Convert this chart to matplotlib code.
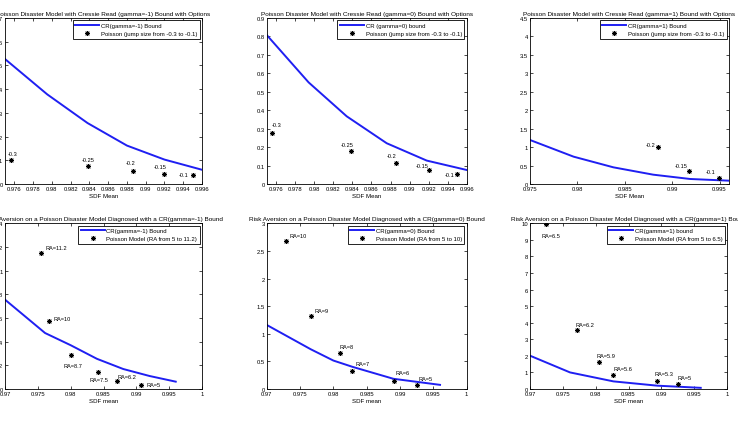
import numpy as np
import matplotlib
matplotlib.use("Agg")
import matplotlib.pyplot as plt
from matplotlib.ticker import MultipleLocator, FuncFormatter

plt.rcParams['font.family'] = ['Liberation Sans Narrow', 'Liberation Sans', 'DejaVu Sans']

# ---- top row: jump size models ----
jump_labels = ["-0.3", "-0.25", "-0.2", "-0.15", "-0.1"]
jump_x = [0.9756, 0.9839, 0.9886, 0.9920, 0.9950]

p1_y = [0.101, 0.075, 0.055, 0.043, 0.038]
p2_y = [0.277, 0.177, 0.114, 0.076, 0.054]
p3_labels = ["-0.2", "-0.15", "-0.1"]
p3_x = [0.9885, 0.9918, 0.9949]
p3_y = [1.01, 0.36, 0.163]

b1_x = [0.975, 0.9795, 0.9838, 0.9880, 0.9920, 0.9960]
b1_y = [0.527, 0.378, 0.257, 0.162, 0.103, 0.060]
b2_x = [0.975, 0.9794, 0.9834, 0.9876, 0.9918, 0.9960]
b2_y = [0.808, 0.551, 0.367, 0.221, 0.127, 0.076]
b3_x = [0.975, 0.9796, 0.9838, 0.9880, 0.9919, 0.9960]
b3_y = [1.193, 0.741, 0.452, 0.253, 0.136, 0.090]

# ---- bottom row: risk aversion ----
ra4_labels = ["RA=11.2", "RA=10", "RA=8.7", "RA=7.5", "RA=6.2", "RA=5"]
ra4_x = [0.97542, 0.97674, 0.98003, 0.98419, 0.98713, 0.99078]
ra4_y = [1.149, 0.572, 0.290, 0.147, 0.070, 0.034]
ra5_labels = ["RA=10", "RA=9", "RA=8", "RA=7", "RA=6", "RA=5"]
ra5_x = [0.97286, 0.97663, 0.98095, 0.98281, 0.98910, 0.99251]
ra5_y = [2.674, 1.316, 0.646, 0.320, 0.151, 0.072]
ra6_labels = ["RA=6.5", "RA=6.2", "RA=5.9", "RA=5.6", "RA=5.3", "RA=5"]
ra6_x = [0.97238, 0.97720, 0.98044, 0.98267, 0.98941, 0.99255]
ra6_y = [9.96, 3.56, 1.61, 0.865, 0.463, 0.30]

c4_x = [0.970, 0.9761, 0.9800, 0.9840, 0.9880, 0.9920, 0.9960]
c4_y = [0.755, 0.473, 0.370, 0.255, 0.169, 0.110, 0.062]
c5_x = [0.970, 0.9766, 0.9800, 0.9829, 0.9890, 0.9925, 0.9960]
c5_y = [1.160, 0.720, 0.515, 0.400, 0.185, 0.130, 0.075]
c6_x = [0.970, 0.9761, 0.9827, 0.9894, 0.9925, 0.9960]
c6_y = [2.010, 1.000, 0.460, 0.200, 0.140, 0.070]

W, H = 738, 435
fig = plt.figure(figsize=(W / 100, H / 100), dpi=100)


def box(l, t, r, b):
    return [l / W, 1 - b / H, (r - l) / W, (b - t) / H]


fmt = FuncFormatter(lambda v, _: f"{round(v, 4):g}")


def panel(rect, title, xlabel, xlim, xstep, ylim, ystep,
          cx, cy, cname, px, py, pname, labels, offsets):
    ax = fig.add_axes(rect)
    ax.plot(cx, cy, color=(0.12, 0.12, 0.95), lw=1.4, label=cname)
    ax.plot(px, py, ls='none', marker=(8, 2, 0), ms=3.6, mew=0.6,
            color='black', label=pname)
    for x, y, s, (dx, dy) in zip(px, py, labels, offsets):
        ax.annotate(s, (x, y), xytext=(dx, -dy), textcoords='offset pixels',
                    ha='center', va='center', fontsize=4.1)
    ax.set_xlim(*xlim)
    ax.set_ylim(*ylim)
    ax.xaxis.set_major_locator(MultipleLocator(xstep))
    ax.yaxis.set_major_locator(MultipleLocator(ystep))
    ax.xaxis.set_major_formatter(fmt)
    ax.yaxis.set_major_formatter(fmt)
    ax.tick_params(direction='in', top=True, right=True, length=2,
                   width=0.5, labelsize=4.2, pad=1.5)
    for sp in ax.spines.values():
        sp.set_linewidth(0.6)
    ax.set_title(title, fontsize=4.6, pad=2.5)
    ax.set_xlabel(xlabel, fontsize=4.4, labelpad=1.5)
    leg = ax.legend(loc='upper right', fontsize=4.3, fancybox=False,
                    edgecolor='black', framealpha=1, borderaxespad=0.4,
                    handlelength=4, handletextpad=0.3, borderpad=0.4,
                    labelspacing=0.5)
    leg.get_frame().set_linewidth(0.6)
    return ax


jump_title = "Poisson Disaster Model with Cressie Read (gamma={}) Bound with Options"
ra_title = "Risk Aversion on a Poisson Disaster Model Diagnosed with a CR(gamma={}) Bound"
jump_name = "Poisson (jump size from -0.3 to -0.1)"

panel(box(5, 19, 202, 185), jump_title.format(-1), "SDF Mean",
      (0.975, 0.996), 0.002, (0, 0.7), 0.1,
      b1_x, b1_y, "CR(gamma=-1) Bound", jump_x, p1_y, jump_name, jump_labels,
      [(2.3, -7), (-0.7, -7), (-1.7, -8.7), (-4.3, -7.3), (-9, -0.7)])

panel(box(266.7, 19, 466.7, 185), jump_title.format(0), "SDF Mean",
      (0.975, 0.996), 0.002, (0, 0.9), 0.1,
      b2_x, b2_y, "CR (gamma=0) bound", jump_x, p2_y, jump_name, jump_labels,
      [(4.3, -8.3), (-4.3, -6.7), (-5, -7.3), (-6.7, -4.3), (-7.7, 0.7)])

panel(box(530, 19, 729, 185), jump_title.format(1), "SDF Mean",
      (0.975, 0.996), 0.005, (0, 4.5), 0.5,
      b3_x, b3_y, "CR(gamma=1) Bound", p3_x, p3_y, jump_name, p3_labels,
      [(-7.3, -2.7), (-8.3, -5), (-8, -6.3)])

panel(box(5, 224.3, 202, 390), ra_title.format(-1), "SDF mean",
      (0.97, 1.0), 0.005, (0, 1.4), 0.2,
      c4_x, c4_y, "CR(gamma=-1) Bound", ra4_x, ra4_y,
      "Poisson Model (RA from 5 to 11.2)", ra4_labels,
      [(15.3, -5.7), (13.3, -2.3), (1.7, 11), (1, 8), (9, -4.3), (11.7, -0.3)])

panel(box(266.7, 224.3, 466.7, 390), ra_title.format(0), "SDF mean",
      (0.97, 1.0), 0.005, (0, 3), 0.5,
      c5_x, c5_y, "CR(gamma=0) Bound", ra5_x, ra5_y,
      "Poisson Model (RA from 5 to 10)", ra5_labels,
      [(12.7, -6.3), (10.3, -5.7), (7.3, -6.7), (10, -8), (8.3, -8.3), (9, -6.7)])

panel(box(530, 224.3, 727, 390), ra_title.format(1), "SDF mean",
      (0.97, 1.0), 0.005, (0, 10), 1,
      c6_x, c6_y, "CR(gamma=1) bound", ra6_x, ra6_y,
      "Poisson Model (RA from 5 to 6.5)", ra6_labels,
      [(5.3, 11.7), (7.7, -6), (7.3, -7.3), (10, -6.3), (6.7, -8.3), (6, -6.7)])

fig.savefig("out.png", dpi=100)
